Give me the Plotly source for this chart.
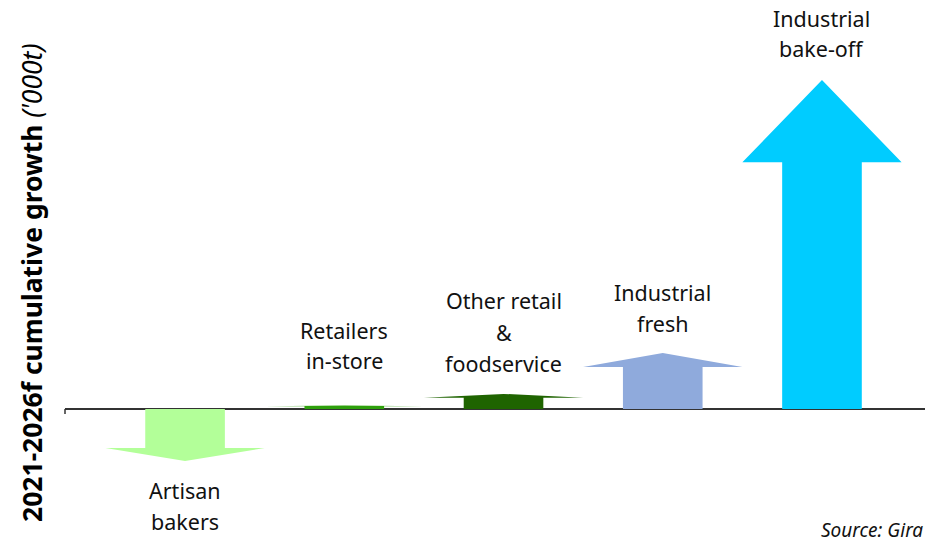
import plotly.graph_objects as go

# ---- data ----
categories = ["Artisan bakers", "Retailers in-store", "Other retail & foodservice",
              "Industrial fresh", "Industrial bake-off"]
label_lines = [["Artisan", "bakers"], ["Retailers", "in-store"],
               ["Other retail", "&", "foodservice"], ["Industrial", "fresh"],
               ["Industrial", "bake-off"]]
growth = [-158, 11, 46, 170, 1000]  # 2021-2026f cumulative growth ('000t), estimated
colors = ["#B3FF99", "#2EA00C", "#1F6400", "#8FAADC", "#00CCFF"]

# ---- layout helpers ----
W, H = 937, 542
ML, MR, MT, MB = 65, 12, 10, 32
PH = H - MT - MB
Y_RANGE = [-307, 1213]
X_RANGE = [-0.754, 4.647]


def py(pix):  # pixel row -> paper y
    return (H - MB - pix) / PH


def px(pix):  # pixel col -> paper x
    return (pix - ML) / (W - ML - MR)


fig = go.Figure()

shaft_half = 0.25
head_half = 0.5
head_frac = 0.25

for i, (cat, v, c) in enumerate(zip(categories, growth, colors)):
    hb = v - head_frac * v
    xs = [i - shaft_half, i - shaft_half, i - head_half, i, i + head_half,
          i + shaft_half, i + shaft_half, i - shaft_half]
    ys = [0, hb, hb, v, hb, hb, 0, 0]
    fig.add_trace(go.Scatter(x=xs, y=ys, mode="lines", fill="toself",
                             fillcolor=c, line=dict(width=0, color=c),
                             name=cat, hoverinfo="name", showlegend=False))

# label line positions (pixel rows of line centres)
label_rows = [[490, 521], [330, 360], [300, 332, 363], [292, 323], [18, 49]]
FAM = "Noto Sans, Open Sans, sans-serif"
font = dict(family=FAM, size=21.5, color="#111111")
for i, (lines, rows) in enumerate(zip(label_lines, label_rows)):
    for t, r in zip(lines, rows):
        fig.add_annotation(x=i, xref="x", y=py(r), yref="paper", text=t,
                           showarrow=False, font=font, xanchor="center",
                           yanchor="middle")

# y-axis title
fig.add_annotation(x=px(32), xref="paper", y=py(283), yref="paper",
                   text="<b>2021-2026f cumulative growth</b> <i>('000t)</i>",
                   textangle=-90, showarrow=False,
                   font=dict(family=FAM, size=26.5, color="#000000"),
                   xanchor="center", yanchor="middle")

# source
fig.add_annotation(x=px(925), xref="paper", y=py(530), yref="paper",
                   text="<i>Source: Gira</i>", showarrow=False,
                   font=dict(family=FAM, size=19, color="#111111"),
                   xanchor="right", yanchor="middle")

# small tick at the left end of the axis
fig.add_shape(type="line", xref="paper", x0=0, x1=0, yref="y", y0=0, y1=-15,
              line=dict(color="#333333", width=1.5))

fig.update_layout(
    width=W, height=H,
    margin=dict(l=ML, r=MR, t=MT, b=MB),
    plot_bgcolor="white", paper_bgcolor="white",
    xaxis=dict(range=X_RANGE, showgrid=False, zeroline=False, showticklabels=False,
               showline=False, ticks=""),
    yaxis=dict(range=Y_RANGE, showgrid=False, zeroline=True, zerolinecolor="#333333",
               zerolinewidth=1.5, showticklabels=False, showline=False, ticks=""),
)

fig.write_html("out.html",
               config={"displayModeBar": False},
               post_script="document.body.style.margin='0';"
                           "document.body.style.overflow='hidden';")
